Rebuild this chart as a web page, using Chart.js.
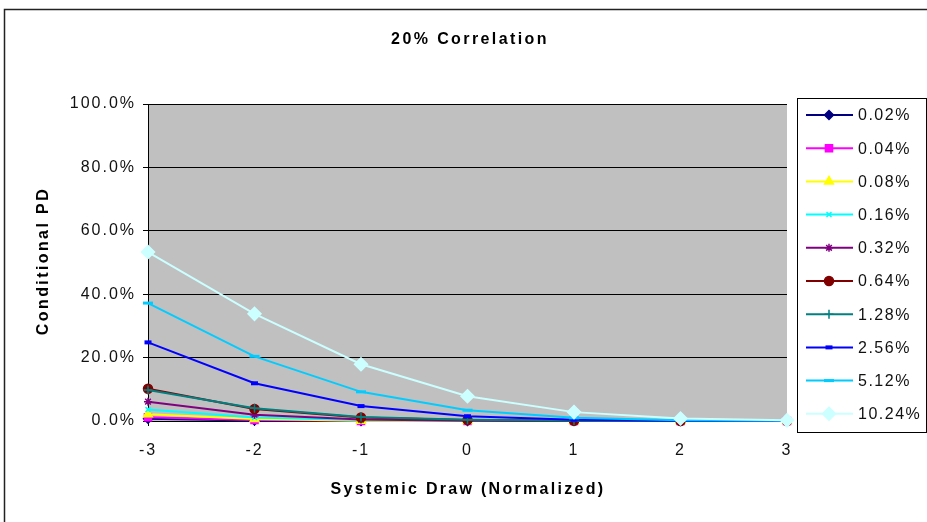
<!DOCTYPE html>
<html>
<head>
<meta charset="utf-8">
<script src="https://cdn.jsdelivr.net/npm/chart.js@4/dist/chart.umd.min.js"></script>
<style>
  html, body { margin: 0; padding: 0; background: #fff; }
  #wrap { width: 927px; height: 522px; }
</style>
</head>
<body>
<div id="wrap"><canvas id="pd" width="927" height="522"></canvas></div>
<script>
// systemic draw (x axis categories)
const draws = ['-3', '-2', '-1', '0', '1', '2', '3'];
const yTicks = [0, 20, 40, 60, 80, 100];

// unconditional PD of each series (legend labels)
const seriesNames = ['0.02%', '0.04%', '0.08%', '0.16%', '0.32%', '0.64%', '1.28%', '2.56%', '5.12%', '10.24%'];

// conditional PD in %
const pd002 = [0.7, 0.15, 0.02, 0, 0, 0, 0];
const pd004 = [1.2, 0.3, 0.05, 0.01, 0, 0, 0];
const pd008 = [2.1, 0.6, 0.1, 0.02, 0, 0, 0];
const pd016 = [3.6, 1.1, 0.3, 0.05, 0.01, 0, 0];
const pd032 = [6.1, 2.0, 0.5, 0.1, 0.02, 0, 0];
const pd064 = [10.2, 3.8, 1.1, 0.3, 0.05, 0.01, 0];
const pd128 = [9.8, 4.0, 1.3, 0.4, 0.1, 0.01, 0];
const pd256 = [24.8, 11.9, 4.7, 1.5, 0.4, 0.1, 0];
const pd512 = [37.2, 20.4, 9.2, 3.4, 1.0, 0.2, 0.05];
const pd1024 = [53.3, 33.8, 17.9, 7.8, 2.8, 0.8, 0.2];

const seriesValues = [pd002, pd004, pd008, pd016, pd032, pd064, pd128, pd256, pd512, pd1024];

// look of each series (Excel default palette)
const seriesStyles = [
  { color: '#000080', pointStyle: 'rectRot', radius: 4.5 },
  { color: '#FF00FF', pointStyle: 'rect', radius: 5 },
  { color: '#FFFF00', pointStyle: 'triangle', radius: 5 },
  { color: '#00FFFF', pointStyle: 'crossRot', radius: 3.5 },
  { color: '#800080', pointStyle: 'star', radius: 4 },
  { color: '#800000', pointStyle: 'circle', radius: 4.5 },
  { color: '#008080', pointStyle: 'cross', radius: 4.5 },
  { color: '#0000FF', pointStyle: 'line', radius: 3.5, markerWidth: 4 },
  { color: '#00CCFF', pointStyle: 'line', radius: 5, markerWidth: 3 },
  { color: '#CCFFFF', pointStyle: 'rectRot', radius: 6.5 },
];

const FONT = '"Liberation Sans", Arial, sans-serif';

const datasets = seriesValues.map((vals, i) => ({
  label: seriesNames[i],
  data: vals,
  borderColor: seriesStyles[i].color,
  backgroundColor: seriesStyles[i].color,
  pointBackgroundColor: seriesStyles[i].color,
  pointBorderColor: seriesStyles[i].color,
  pointStyle: seriesStyles[i].pointStyle,
  pointRadius: seriesStyles[i].radius,
  pointHoverRadius: seriesStyles[i].radius,
  pointBorderWidth: seriesStyles[i].markerWidth || 1.5,
  borderWidth: 2,
  tension: 0,
  clip: false,
  order: seriesValues.length - i,
}));

function spacedText(ctx, text, x, y, spacing) {
  ctx.letterSpacing = spacing + 'px';
  ctx.fillText(text, x, y);
  ctx.letterSpacing = '0px';
}

const excelLook = {
  id: 'excelLook',
  beforeLayout(chart) {
    chart.ctx.letterSpacing = '2px';
  },
  beforeDraw(chart) {
    const { ctx, chartArea: a } = chart;
    ctx.save();
    ctx.fillStyle = '#fff';
    ctx.fillRect(0, 0, chart.width, chart.height);
    ctx.fillStyle = '#C0C0C0';
    ctx.fillRect(a.left, a.top, a.right - a.left, a.bottom - a.top);
    ctx.restore();
    ctx.letterSpacing = '2px';
  },
  afterDraw(chart) {
    const { ctx } = chart;
    ctx.save();
    ctx.letterSpacing = '0px';

    // outer frame
    ctx.strokeStyle = '#222';
    ctx.lineWidth = 1.5;
    ctx.beginPath();
    ctx.moveTo(4.5, chart.height);
    ctx.lineTo(4.5, 9.5);
    ctx.lineTo(chart.width, 9.5);
    ctx.stroke();

    // titles
    ctx.fillStyle = '#000';
    ctx.textAlign = 'center';
    ctx.textBaseline = 'middle';
    ctx.font = 'bold 16px ' + FONT;
    spacedText(ctx, '20% Correlation', 470, 40, 2.4);
    spacedText(ctx, 'Systemic Draw (Normalized)', 468, 490, 2.3);
    ctx.save();
    ctx.translate(44, 261);
    ctx.rotate(-Math.PI / 2);
    spacedText(ctx, 'Conditional PD', 0, 0, 2.4);
    ctx.restore();

    // legend
    const lx = 797, ly = 98, lw = 130, lh = 335;
    ctx.fillStyle = '#fff';
    ctx.fillRect(lx, ly, lw, lh);
    ctx.strokeStyle = '#000';
    ctx.lineWidth = 1;
    ctx.strokeRect(lx + 0.5, ly + 0.5, lw - 1, lh - 1);
    ctx.textAlign = 'left';
    ctx.font = '16px ' + FONT;
    seriesNames.forEach((name, i) => {
      const st = seriesStyles[i];
      const y = 115 + i * 33.2;
      ctx.strokeStyle = st.color;
      ctx.lineWidth = 2;
      ctx.beginPath();
      ctx.moveTo(806, y);
      ctx.lineTo(853, y);
      ctx.stroke();
      ctx.fillStyle = st.color;
      ctx.lineWidth = st.markerWidth || 1.5;
      Chart.helpers.drawPoint(ctx, {
        pointStyle: st.pointStyle,
        radius: st.radius,
        rotation: 0,
        borderWidth: st.markerWidth || 1.5,
      }, 829, y);
      ctx.fillStyle = '#111';
      spacedText(ctx, name, 858, y + 1, 1.5);
    });
    ctx.restore();
  },
};

new Chart(document.getElementById('pd'), {
  type: 'line',
  data: { labels: draws, datasets },
  plugins: [excelLook],
  options: {
    responsive: false,
    animation: false,
    devicePixelRatio: 1,
    layout: { padding: { left: 0, top: 104, right: 140, bottom: 0 } },
    plugins: {
      legend: { display: false },
      title: { display: false },
      tooltip: { enabled: false },
    },
    scales: {
      x: {
        type: 'category',
        offset: false,
        afterFit(scale) { scale.height = 101; },
        grid: { drawOnChartArea: false, drawTicks: true, tickLength: 5, color: '#000' },
        border: { color: '#000', width: 1 },
        ticks: { color: '#111', font: { family: FONT, size: 16 }, padding: 15, maxRotation: 0 },
      },
      y: {
        min: 0,
        max: 100,
        afterFit(scale) { scale.width = 148; },
        afterBuildTicks(scale) { scale.ticks = yTicks.map(v => ({ value: v })); },
        grid: { color: '#000', lineWidth: 1, tickLength: 5 },
        border: { color: '#000', width: 1 },
        ticks: {
          color: '#111',
          font: { family: FONT, size: 16 },
          padding: 7,
          callback: v => v.toFixed(1) + '%',
        },
      },
    },
  },
});
</script>
</body>
</html>
